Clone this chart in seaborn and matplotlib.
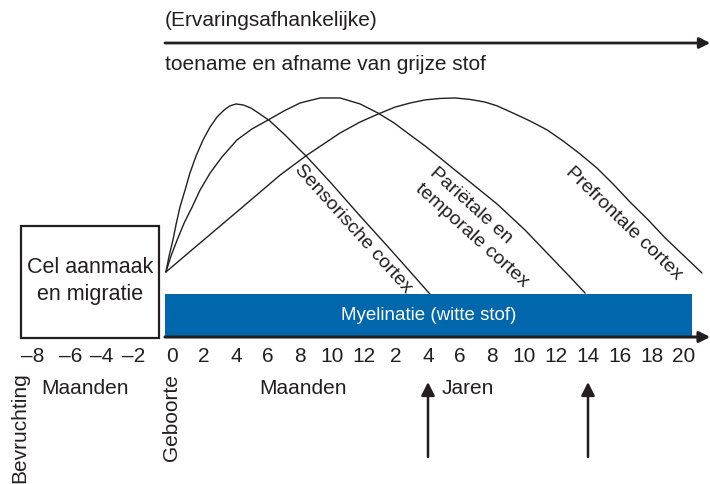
import numpy as np
import pandas as pd
import seaborn as sns
import matplotlib.pyplot as plt
from matplotlib.patches import Rectangle

# axis ticks: months before birth, months after birth, then years
tick_labels = ["–8", "–6", "–4", "–2", "0", "2", "4", "6", "8", "10", "12",
               "2", "4", "6", "8", "10", "12", "14", "16", "18", "20"]
tick_pos = [-4.34, -3.16, -2.19, -1.19, 0, 1, 2, 3, 4, 5, 6,
            7, 8, 9, 10, 11, 12, 13, 14, 15, 16]

# grey matter curves (x in tick slots, y relative amount)
sens_x = [-0.19, -0.09, 0.03, 0.13, 0.25, 0.41, 0.56, 0.75, 0.97, 1.19, 1.41,
          1.63, 1.81, 2.0, 2.22, 2.47, 2.75, 3.06, 3.53, 4.0, 4.22, 4.94,
          5.88, 6.81, 7.59, 8.06]
sens_y = [27.1, 33.8, 40.4, 47.1, 54.2, 61.3, 68.3, 75.4, 82.1, 87.5, 91.7,
          94.6, 96.3, 97.1, 96.7, 95.4, 92.9, 90.0, 84.2, 77.9, 75.0, 64.6,
          50.4, 36.7, 25.0, 17.9]

par_x = [-0.19, -0.03, 0.16, 0.38, 0.63, 0.88, 1.19, 1.56, 2.03, 2.5, 3.0,
         3.5, 4.0, 4.63, 5.25, 5.88, 6.44, 6.94, 7.44, 7.91, 8.38, 8.84,
         9.31, 10.16, 11.03, 11.72, 12.44, 12.91]
par_y = [27.1, 33.8, 40.4, 47.5, 54.2, 61.3, 68.3, 75.0, 82.1, 86.7, 90.4,
         94.2, 97.5, 99.6, 99.6, 97.1, 93.3, 89.2, 84.2, 79.6, 74.6, 69.6,
         64.6, 55.4, 44.6, 35.0, 25.0, 18.3]

pref_x = [-0.19, 0.88, 2.13, 3.38, 4.22, 5.25, 5.88, 6.44, 6.97, 7.44, 7.91,
          8.38, 8.84, 9.31, 9.78, 10.16, 10.66, 11.19, 11.72, 12.22, 12.75,
          13.28, 13.78, 14.31, 14.88, 15.41, 16.0, 16.56]
pref_y = [27.1, 39.2, 53.3, 67.5, 75.8, 85.0, 89.6, 92.9, 95.8, 97.5, 98.8,
          99.4, 99.6, 99.0, 97.9, 96.3, 93.3, 90.0, 86.3, 81.7, 76.3,
          70.4, 63.8, 56.3, 48.8, 41.3, 33.8, 26.7]

# myelination band and prenatal box
myelin_start, myelin_end, myelin_level = -0.22, 16.25, 17.9
prenatal_start, prenatal_end, prenatal_level = -4.72, -0.41, 46.2

# ages marked with arrows (tick slots of 4 and 14 years)
marked_ages = [8, 13]

ink = "#231f20"
blue = "#0067ad"

sns.set_theme(style="white")
plt.rcParams["font.family"] = ["Liberation Sans", "DejaVu Sans"]

curves = pd.concat([
    pd.DataFrame({"x": sens_x, "y": sens_y, "regio": "sens"}),
    pd.DataFrame({"x": par_x, "y": par_y, "regio": "par"}),
    pd.DataFrame({"x": pref_x, "y": pref_y, "regio": "pref"}),
])

fig = plt.figure(figsize=(7.1, 4.84), dpi=100)
ax = fig.add_axes([0, 0, 1, 1])
ax.set_xlim(-5.375, 16.8125)
ax.set_ylim(-61.25, 140.42)

sns.lineplot(data=curves, x="x", y="y", hue="regio", units="regio",
             estimator=None, sort=False, palette=[ink, ink, ink],
             linewidth=1.0, legend=False, ax=ax)

ax.bar(myelin_start, myelin_level, width=myelin_end - myelin_start,
       align="edge", color=blue, linewidth=0, zorder=2)
ax.text((myelin_start + myelin_end) / 2, myelin_level / 2, "Myelinatie (witte stof)",
        color="white", fontsize=13.5, ha="center", va="center", zorder=3)

ax.add_patch(Rectangle((prenatal_start, -0.4), prenatal_end - prenatal_start,
                       prenatal_level + 0.4, fill=False, edgecolor=ink, lw=1.6))
ax.text(-2.56, 23.3, "Cel aanmaak\nen migratie", fontsize=15.5, color=ink,
        ha="center", va="center", linespacing=1.35)

# time axis with arrow
ax.annotate("", xy=(16.82, 0), xytext=(myelin_start, 0),
            arrowprops=dict(arrowstyle="-|>", color=ink, lw=2.2,
                            mutation_scale=16, shrinkA=0, shrinkB=0))
for s in ax.spines.values():
    s.set_visible(False)
ax.spines["bottom"].set_position(("data", 0))
ax.set_xticks(tick_pos, tick_labels)
ax.set_yticks([])
ax.tick_params(axis="x", length=0, pad=7, labelsize=15, labelcolor=ink)
ax.set_xlabel("")
ax.set_ylabel("")

# top arrow and its text
ax.annotate("", xy=(16.82, 122.5), xytext=(myelin_start, 122.5),
            arrowprops=dict(arrowstyle="-|>", color=ink, lw=2.0,
                            mutation_scale=16, shrinkA=0, shrinkB=0))
ax.text(myelin_start, 131.7, "(Ervaringsafhankelijke)", fontsize=15, color=ink,
        ha="left", va="center")
ax.text(myelin_start, 113.5, "toename en afname van grijze stof", fontsize=15,
        color=ink, ha="left", va="center")

# curve labels
ax.text(5.66, 45.2, "Sensorische cortex", rotation=-48, rotation_mode="anchor",
        fontsize=14, color=ink, ha="center", va="center")
ax.text(9.6, 45.8, "Pariëtale en\ntemporale cortex", rotation=-42,
        rotation_mode="anchor", fontsize=14, color=ink, ha="center",
        va="center", multialignment="left", linespacing=1.35)
ax.text(14.13, 47.5, "Prefrontale cortex", rotation=-44, rotation_mode="anchor",
        fontsize=14, color=ink, ha="center", va="center")

# labels under the axis
ax.text(-2.72, -21.3, "Maanden", fontsize=15, color=ink, ha="center", va="center")
ax.text(4.09, -21.3, "Maanden", fontsize=15, color=ink, ha="center", va="center")
ax.text(8.44, -21.3, "Jaren", fontsize=15, color=ink, ha="left", va="center")
ax.text(-4.75, -14.6, "Bevruchting", fontsize=15, color=ink, rotation=90,
        ha="center", va="top")
ax.text(-0.03, -15.4, "Geboorte", fontsize=15, color=ink, rotation=90,
        ha="center", va="top")

for a in marked_ages:
    ax.annotate("", xy=(a, -18.75), xytext=(a, -50),
                arrowprops=dict(arrowstyle="-|>", color=ink, lw=1.8,
                                mutation_scale=20, shrinkA=0, shrinkB=0))

fig.savefig("out.png", dpi=100)
